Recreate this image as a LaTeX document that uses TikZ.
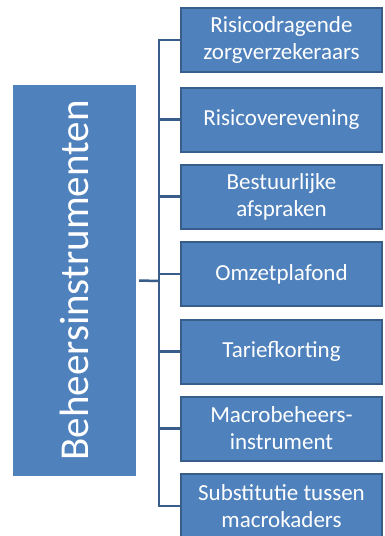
\documentclass[tikz,border=0pt]{standalone}
\usepackage{fontspec}
\setmainfont{Carlito}
\definecolor{boxblue}{HTML}{4F81BD}
\definecolor{edgeblue}{HTML}{385D8A}

\begin{document}
\begin{tikzpicture}[x=1pt,y=-1pt,
  item/.style={draw=edgeblue,line width=2pt,fill=boxblue,text=white,align=center,inner sep=0pt,
    minimum width=201pt,minimum height=64pt,font=\fontsize{23}{27}\selectfont},
  conn/.style={draw=edgeblue,line width=2.5pt}]
  \useasboundingbox (0,0) rectangle (385,536);
  \node[fill=boxblue,text=white,rotate=90,inner sep=0pt,minimum width=391pt,minimum height=123pt,
    font=\fontsize{41}{48}\selectfont] (root) at (74.5,280.5) {Beheersinstrumenten};
  \coordinate (hub) at (159,281);
  \node[item] (rz) at (281.5,40) {Risicodragende\\zorgverzekeraars};
  \node[item] (rv) at (281.5,119.5) {Risicoverevening};
  \node[item] (ba) at (281.5,196.5) {Bestuurlijke\\afspraken};
  \node[item] (op) at (281.5,274) {Omzetplafond};
  \node[item] (tk) at (281.5,351.5) {Tariefkorting};
  \node[item] (mi) at (281.5,428.5) {Macrobeheers-\\instrument};
  \node[item] (sm) at (281.5,506) {Substitutie tussen\\macrokaders};
  \draw[conn] ([xshift=3pt]root.south) -- (hub);
  \draw[conn] (rz.west) -| (hub);
  \draw[conn] (rv.west) -| (hub);
  \draw[conn] (ba.west) -| (hub);
  \draw[conn] (op.west) -| (hub);
  \draw[conn] (tk.west) -| (hub);
  \draw[conn] (mi.west) -| (hub);
  \draw[conn] (sm.west) -| (hub);
\end{tikzpicture}
\end{document}
